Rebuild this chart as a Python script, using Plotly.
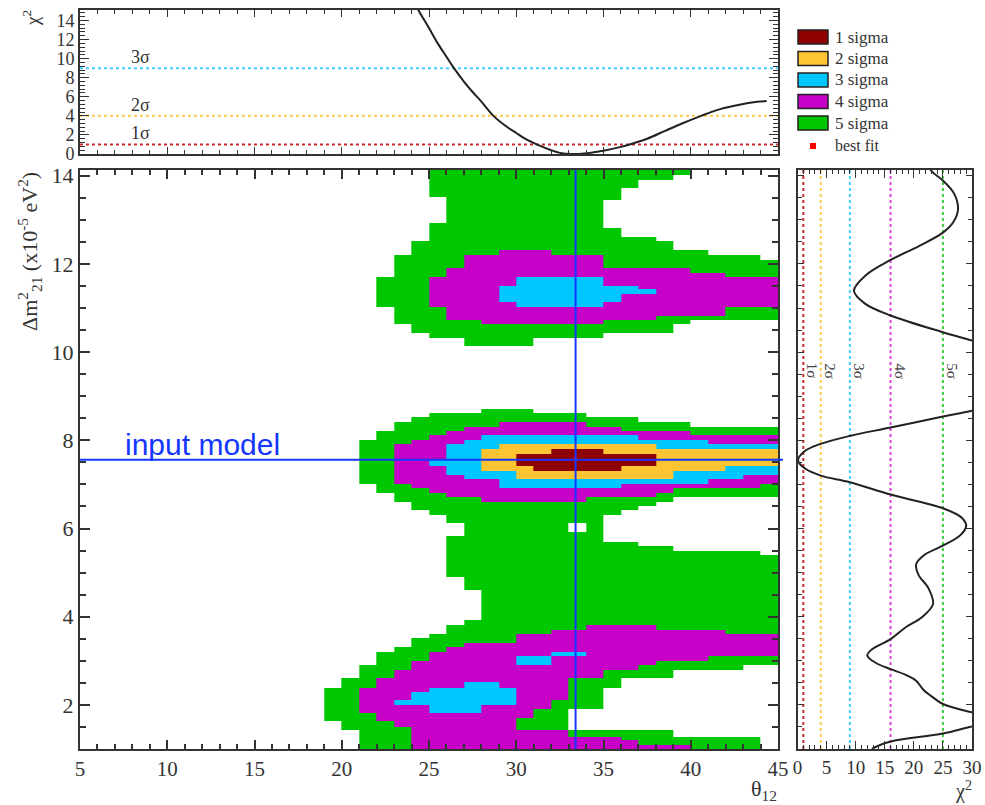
import plotly.graph_objects as go

W, H = 985, 805

# ---------------- data ----------------
# sigma levels (delta chi2) and colours
sigma_names = ["1 sigma", "2 sigma", "3 sigma", "4 sigma", "5 sigma"]
sigma_chi2 = [1, 4, 9, 16, 25]
fill_colors = ["#8f0000", "#ffc431", "#00c6ff", "#c600c6", "#00c800"]
line_colors = ["#cc2a2a", "#ffc94a", "#3ccfff", "#e040e0", "#3fcc3f"]

# main map: theta12 bin edges (1 degree) and Delta m^2 band edges (top -> bottom)
theta_edges = list(range(19, 46))
dm_edges = [14.13, 14.02, 13.90, 13.72, 13.51, 13.45, 12.92, 12.82, 12.62, 12.51, 12.32,
            12.20, 12.09, 11.90, 11.79, 11.70, 11.51, 11.43, 11.31, 11.13, 11.03, 10.83,
            10.73, 10.63, 10.43, 10.31, 10.13, 8.70, 8.61, 8.52, 8.41, 8.31, 8.21, 8.11,
            8.01, 7.91, 7.81, 7.69, 7.56, 7.42, 7.31, 7.22, 7.12, 7.01, 6.91, 6.81, 6.71,
            6.61, 6.51, 6.41, 6.31, 6.12, 5.91, 5.82, 5.70, 5.60, 5.50, 5.40, 4.91, 4.61,
            3.93, 3.81, 3.70, 3.61, 3.51, 3.41, 3.32, 3.21, 3.10, 3.00, 2.91, 2.79, 2.60,
            2.51, 2.39, 2.29, 2.11, 2.00, 1.91, 1.81, 1.70, 1.64, 1.51, 1.43, 1.28, 1.21,
            1.09, 1.00]
# for each band: (sigma level, first theta bin, last theta bin); inner levels overwrite outer
band_spans = [
    [(5, 25, 39)], [(5, 25, 38)], [(5, 25, 36)], [(5, 25, 35)], [(5, 26, 35)],
    [(5, 26, 34)], [(5, 25, 34)], [(5, 25, 35)], [(5, 25, 37)], [(5, 24, 38)],
    [(5, 24, 40), (4, 29, 31)],
    [(5, 23, 43), (4, 27, 34)],
    [(5, 23, 44), (4, 27, 34)],
    [(5, 23, 44), (4, 26, 39)],
    [(5, 23, 44), (4, 26, 41)],
    [(5, 22, 44), (4, 25, 44), (3, 30, 34)],
    [(5, 22, 44), (4, 25, 44), (3, 29, 36)],
    [(5, 22, 44), (4, 25, 44), (3, 29, 37)],
    [(5, 22, 44), (4, 25, 44), (3, 29, 35)],
    [(5, 22, 44), (4, 25, 44), (3, 30, 34)],
    [(5, 23, 44), (4, 26, 41)],
    [(5, 23, 44), (4, 26, 37)],
    [(5, 23, 39), (4, 28, 34)],
    [(5, 24, 38)],
    [(5, 25, 34)],
    [(5, 27, 30)],
    [],
    [(5, 28, 30)],
    [(5, 25, 33)],
    [(5, 24, 36)],
    [(5, 23, 39), (4, 29, 33)],
    [(5, 23, 44), (4, 27, 35)],
    [(5, 22, 44), (4, 26, 39)],
    [(5, 22, 44), (4, 25, 44), (3, 28, 36)],
    [(5, 21, 44), (4, 24, 44), (3, 27, 40)],
    [(5, 21, 44), (4, 23, 44), (3, 26, 44), (2, 29, 37)],
    [(5, 21, 44), (4, 23, 44), (3, 26, 44), (2, 28, 44), (1, 32, 34)],
    [(5, 21, 44), (4, 23, 44), (3, 26, 44), (2, 28, 44), (1, 30, 37)],
    [(5, 21, 44), (4, 23, 44), (3, 25, 44), (2, 28, 44), (1, 30, 37)],
    [(5, 21, 44), (4, 23, 44), (3, 26, 44), (2, 28, 41), (1, 31, 35)],
    [(5, 21, 44), (4, 23, 44), (3, 26, 44), (2, 30, 38)],
    [(5, 21, 44), (4, 23, 44), (3, 27, 42), (2, 30, 38)],
    [(5, 21, 44), (4, 23, 44), (3, 29, 40)],
    [(5, 22, 44), (4, 24, 43), (3, 29, 35)],
    [(5, 22, 44), (4, 25, 38)],
    [(5, 23, 44), (4, 26, 37)],
    [(5, 23, 38), (4, 28, 33)],
    [(5, 24, 37)],
    [(5, 24, 36)],
    [(5, 25, 35)],
    [(5, 26, 34)],
    [(5, 27, 32), (5, 34, 34)],
    [(5, 27, 34)],
    [(5, 26, 34)],
    [(5, 26, 36)],
    [(5, 26, 38)],
    [(5, 26, 43)],
    [(5, 26, 44)],
    [(5, 27, 44)],
    [(5, 28, 44)],
    [(5, 27, 44)],
    [(5, 26, 44), (4, 34, 37)],
    [(5, 26, 44), (4, 32, 41)],
    [(5, 25, 44), (4, 30, 44)],
    [(5, 24, 44), (4, 30, 44)],
    [(5, 24, 44), (4, 27, 44)],
    [(5, 23, 44), (4, 26, 44)],
    [(5, 22, 44), (4, 25, 44), (3, 32, 33)],
    [(5, 22, 44), (4, 25, 40), (3, 30, 31)],
    [(5, 22, 44), (4, 24, 37), (3, 30, 31)],
    [(5, 21, 42), (4, 24, 36)],
    [(5, 21, 38), (4, 23, 34)],
    [(5, 20, 35), (4, 22, 32)],
    [(5, 20, 35), (4, 22, 32), (3, 27, 28)],
    [(5, 19, 34), (4, 21, 32), (3, 25, 29)],
    [(5, 19, 34), (4, 21, 32), (3, 24, 29)],
    [(5, 19, 34), (4, 21, 31), (3, 23, 29)],
    [(5, 19, 34), (4, 21, 31), (3, 25, 27)],
    [(5, 19, 32), (4, 21, 30), (3, 25, 27)],
    [(5, 19, 32), (4, 22, 30)],
    [(5, 19, 32), (4, 22, 29)],
    [(5, 20, 32), (4, 23, 29)],
    [(5, 20, 32), (4, 24, 29)],
    [(5, 21, 38), (4, 24, 32)],
    [(5, 21, 43), (4, 24, 35)],
    [(5, 21, 43), (4, 24, 36)],
    [(5, 21, 43), (4, 24, 39)],
]

# top panel: chi2 profile vs theta12
theta_prof = [24.2, 24.39, 25.0, 25.5, 26.0, 26.43, 27.0, 27.5, 28.0, 28.69, 29.5, 30.0,
              30.5, 31.17, 32.0, 32.5, 33.2, 33.9, 34.5, 35.0, 36.0, 36.5, 37.5, 38.5,
              39.5, 40.6, 41.5, 42.5, 43.5, 44.35]
chi2_theta = [15.8, 15.1, 13.2, 11.6, 10.2, 9.0, 7.6, 6.5, 5.5, 4.0, 2.8, 2.2,
              1.6, 1.0, 0.4, 0.12, 0.0, 0.05, 0.2, 0.35, 0.75, 1.0, 1.6, 2.4,
              3.2, 4.0, 4.6, 5.05, 5.4, 5.55]

# right panel: chi2 profile vs Delta m^2
dm_prof = [14.2, 14.07, 13.89, 13.6, 13.24, 12.95, 12.71, 12.4, 12.09, 11.75, 11.39,
           11.1, 10.83, 10.45, 10.26, 10.0, 9.4, 8.9, 8.67, 8.54, 8.29, 8.10, 7.92, 7.75,
           7.54, 7.36, 7.20, 7.05, 6.77, 6.46, 6.25, 6.06, 5.85, 5.61, 5.4, 5.19, 4.95,
           4.65, 4.29, 4.0, 3.75, 3.49, 3.25, 3.12, 2.95, 2.81, 2.67, 2.55, 2.35, 2.17,
           2.02, 1.83, 1.67, 1.51, 1.35, 1.17, 1.04, 1.0]
chi2_dm = [22.5, 23.3, 25.0, 26.9, 27.6, 26.8, 25.0, 20.8, 16.0, 11.8, 9.7,
           11.6, 16.0, 25.0, 30.0, 36.0, 45.0, 36.0, 30.0, 25.0, 16.0, 9.0, 4.0, 1.2,
           0.1, 1.3, 4.0, 9.0, 16.0, 25.0, 28.2, 29.0, 28.0, 25.0, 21.8, 20.4, 20.8,
           22.5, 23.3, 21.5, 18.5, 16.0, 12.7, 12.0, 13.5, 16.0, 18.8, 20.4, 21.6, 23.3,
           25.0, 30.0, 36.0, 30.0, 25.0, 16.0, 13.3, 12.8]

input_theta, input_dm = 33.4, 7.56
best_theta, best_dm = 33.4, 7.57

x_ticks_main = [5, 10, 15, 20, 25, 30, 35, 40, 45]
y_ticks_main = [2, 4, 6, 8, 10, 12, 14]
y_ticks_top = [0, 2, 4, 6, 8, 10, 12, 14]
x_ticks_right = [0, 5, 10, 15, 20, 25, 30]

# ---------------- build map ----------------
ncol = len(theta_edges) - 1
z = []
for spans in reversed(band_spans):
    row = [None] * ncol
    for lev, a, b in spans:
        for d in range(a, b + 1):
            row[d - theta_edges[0]] = lev
    z.append(row)
y_edges = list(reversed(dm_edges))

cs = []
for i, c in enumerate(fill_colors):
    cs.append([i / 5, c])
    cs.append([(i + 1) / 5, c])

SERIF = "Liberation Serif"
TXT = "#333333"

fig = go.Figure()
fig.add_trace(go.Heatmap(x=theta_edges, y=y_edges, z=z, zmin=0.5, zmax=5.5,
                         colorscale=cs, showscale=False, xaxis="x", yaxis="y",
                         hoverinfo="skip"))

# best fit point
fig.add_trace(go.Scatter(x=[best_theta], y=[best_dm], mode="markers",
                         marker=dict(symbol="square", size=4, color="#ff0000"),
                         xaxis="x", yaxis="y", showlegend=False, hoverinfo="skip"))

# top panel dotted sigma lines + curve
for lvl, col in zip(sigma_chi2[:3], line_colors[:3]):
    fig.add_trace(go.Scatter(x=[5, 45], y=[lvl, lvl], mode="lines",
                             line=dict(color=col, width=2, dash="dot"),
                             xaxis="x2", yaxis="y2", showlegend=False, hoverinfo="skip"))
fig.add_trace(go.Scatter(x=theta_prof, y=chi2_theta, mode="lines",
                         line=dict(color="#222222", width=2, shape="spline"),
                         xaxis="x2", yaxis="y2", showlegend=False, hoverinfo="skip"))

# right panel dotted sigma lines + curve
for lvl, col in zip(sigma_chi2, line_colors):
    fig.add_trace(go.Scatter(x=[lvl, lvl], y=[1, 14.13], mode="lines",
                             line=dict(color=col, width=2, dash="dot"),
                             xaxis="x3", yaxis="y3", showlegend=False, hoverinfo="skip"))
fig.add_trace(go.Scatter(x=chi2_dm, y=dm_prof, mode="lines",
                         line=dict(color="#222222", width=2, shape="spline"),
                         xaxis="x3", yaxis="y3", showlegend=False, hoverinfo="skip"))

def pxx(p):
    return p / W

def pxy(p):
    return 1 - p / H

axis_common = dict(showline=True, linecolor="#333333", linewidth=2, mirror="allticks",
                   ticks="inside", tickcolor="#333333", showgrid=False, zeroline=False,
                   automargin=False,
                   tickfont=dict(family=SERIF, size=21, color=TXT))

main_dom_x = [pxx(80), pxx(778)]
main_dom_y = [pxy(749), pxy(170)]

fig.update_layout(
    width=W, height=H, margin=dict(l=0, r=0, t=0, b=0, pad=0, autoexpand=False),
    paper_bgcolor="white", plot_bgcolor="white", showlegend=False,
    xaxis=dict(axis_common, domain=main_dom_x, range=[5, 45], anchor="y",
               tickvals=x_ticks_main, ticklen=9, tickwidth=1.5,
               minor=dict(dtick=1, tick0=0, ticklen=5, ticks="inside", tickcolor="#333333")),
    yaxis=dict(axis_common, domain=main_dom_y, range=[1, 14.13], anchor="x",
               tickvals=y_ticks_main, ticklen=10, tickwidth=1.5,
               tickfont=dict(family=SERIF, size=22, color=TXT),
               minor=dict(dtick=0.5, tick0=0, ticklen=6, ticks="inside", tickcolor="#333333")),
    xaxis2=dict(axis_common, domain=main_dom_x, range=[5, 45], anchor="y2",
                tickvals=x_ticks_main, showticklabels=False, ticklen=7,
                minor=dict(dtick=1, tick0=0, ticklen=4, ticks="inside", tickcolor="#333333")),
    yaxis2=dict(axis_common, domain=[pxy(154), pxy(10)], range=[0, 15.1], anchor="x2",
                tickvals=y_ticks_top, ticklen=9,
                tickfont=dict(family=SERIF, size=18, color=TXT),
                minor=dict(dtick=0.4, tick0=0, ticklen=5, ticks="inside", tickcolor="#333333")),
    xaxis3=dict(axis_common, domain=[pxx(797.5), pxx(972)], range=[0, 30], anchor="y3",
                tickvals=x_ticks_right, ticklen=8,
                tickfont=dict(family=SERIF, size=19, color=TXT),
                minor=dict(dtick=1, tick0=0, ticklen=4, ticks="inside", tickcolor="#333333")),
    yaxis3=dict(axis_common, domain=main_dom_y, range=[1, 14.13], anchor="x3",
                tickvals=y_ticks_main, showticklabels=False, ticklen=6,
                minor=dict(dtick=0.5, tick0=0, ticklen=4, ticks="inside", tickcolor="#333333")),
)

shapes = []
ann = []
BLUE = "#1437ff"
# input model lines
shapes.append(dict(type="line", xref="paper", yref="y", x0=pxx(80), x1=pxx(783),
                   y0=input_dm, y1=input_dm, line=dict(color=BLUE, width=2), layer="above"))
shapes.append(dict(type="line", xref="x", yref="y", x0=input_theta, x1=input_theta,
                   y0=1, y1=14.13, line=dict(color=BLUE, width=2), layer="above"))
ann.append(dict(text="input model", xref="paper", yref="y", x=pxx(123), y=input_dm,
                xanchor="left", yanchor="bottom", yshift=-3, showarrow=False,
                font=dict(family="Liberation Sans", size=30, color=BLUE)))

# legend
row_y = [37, 58.5, 80, 101.5, 123]
for name, col, yy in zip(sigma_names, fill_colors, row_y):
    shapes.append(dict(type="rect", xref="paper", yref="paper",
                       x0=pxx(798), x1=pxx(828), y0=pxy(yy + 7), y1=pxy(yy - 7),
                       fillcolor=col, line=dict(color="#222222", width=1.5)))
    ann.append(dict(text=name, xref="paper", yref="paper", x=pxx(833), y=pxy(yy),
                    xanchor="left", yanchor="middle", showarrow=False,
                    font=dict(family=SERIF, size=17, color=TXT)))
shapes.append(dict(type="rect", xref="paper", yref="paper",
                   x0=pxx(810), x1=pxx(816), y0=pxy(149), y1=pxy(143),
                   fillcolor="#ff0000", line=dict(width=0)))
ann.append(dict(text="best fit", xref="paper", yref="paper", x=pxx(833), y=pxy(145),
                xanchor="left", yanchor="middle", showarrow=False,
                font=dict(family=SERIF, size=16, color=TXT)))

# sigma labels top panel
for lab, lvl in zip(["1σ", "2σ", "3σ"], sigma_chi2[:3]):
    ann.append(dict(text=lab, xref="x2", yref="y2", x=8.45, y=lvl, xanchor="center",
                    yanchor="bottom", yshift=-1, showarrow=False,
                    font=dict(family=SERIF, size=18, color=TXT)))
# sigma labels right panel
for lab, lvl in zip(["1σ", "2σ", "3σ", "4σ", "5σ"], sigma_chi2):
    ann.append(dict(text=lab, xref="x3", yref="y3", x=lvl, y=9.57, xanchor="center",
                    yanchor="middle", xshift=9, textangle=90, showarrow=False,
                    font=dict(family=SERIF, size=15, color="#444444")))

# axis titles
ann.append(dict(text="χ<sup>2</sup>", xref="paper", yref="paper", x=pxx(31), y=pxy(18),
                xanchor="center", yanchor="middle", textangle=-90, showarrow=False,
                font=dict(family=SERIF, size=19, color=TXT)))
ann.append(dict(text="Δm<sup>2</sup><sub>21</sub> (x10<sup>-5</sup> eV<sup>2</sup>)",
                xref="paper", yref="paper", x=pxx(30), y=pxy(252),
                xanchor="center", yanchor="middle", textangle=-90, showarrow=False,
                font=dict(family=SERIF, size=22, color=TXT)))
ann.append(dict(text="θ<sub>12</sub>", xref="paper", yref="paper", x=pxx(779), y=pxy(790),
                xanchor="right", yanchor="middle", showarrow=False,
                font=dict(family=SERIF, size=22, color=TXT)))
ann.append(dict(text="χ<sup>2</sup>", xref="paper", yref="paper", x=pxx(974), y=pxy(790),
                xanchor="right", yanchor="middle", showarrow=False,
                font=dict(family=SERIF, size=20, color=TXT)))

fig.update_layout(shapes=shapes, annotations=ann)
fig.write_html("out.html")
